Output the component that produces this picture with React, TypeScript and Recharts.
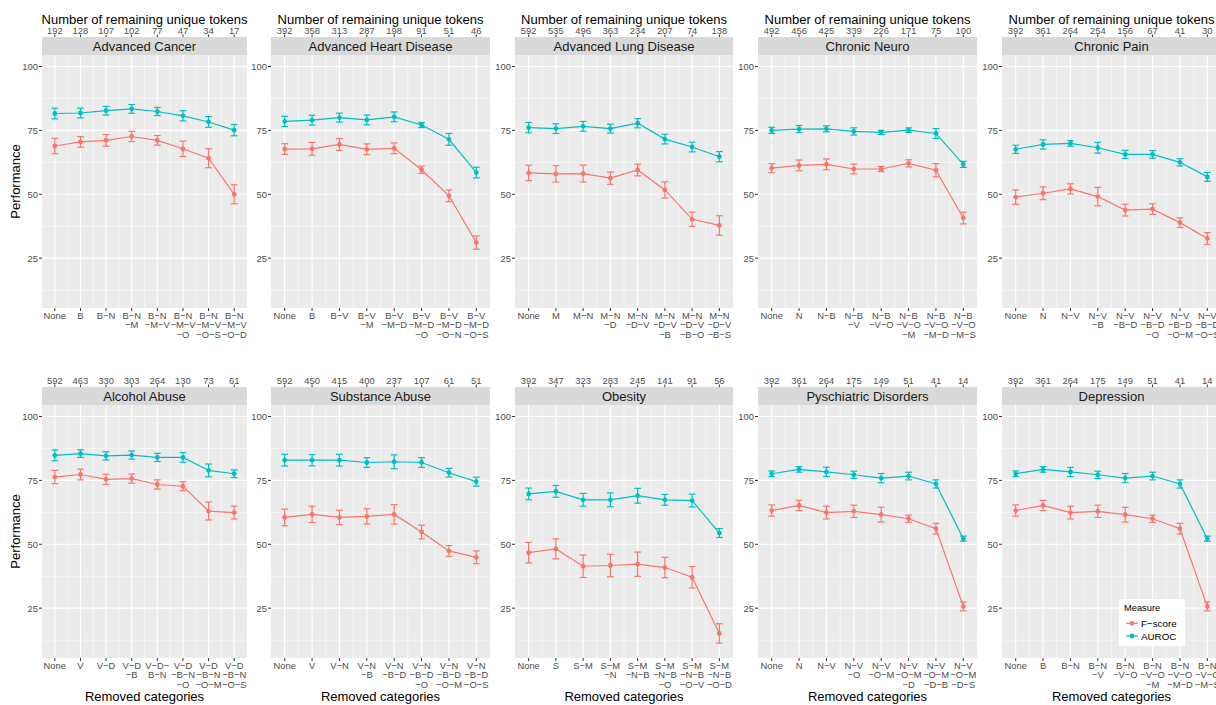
import React from 'react';
import { LineChart, Line, XAxis, YAxis, CartesianGrid, ErrorBar } from 'recharts';

// ---------- DATA ----------
const positions = [1, 2, 3, 4, 5, 6, 7, 8];
const yTicks = [25, 50, 75, 100];
const yMinor = [12.5, 37.5, 62.5, 87.5];
const xMinor = [1.5, 2.5, 3.5, 4.5, 5.5, 6.5, 7.5];

const cancerLabels = ['None', 'B', 'B−N', 'B−N\n−M', 'B−N\n−M−V', 'B−N\n−M−V\n−O', 'B−N\n−M−V\n−O−S', 'B−N\n−M−V\n−O−D'];
const cancerTokens = [192, 128, 107, 102, 77, 47, 34, 17];
const cancerAuroc = [81.6, 81.8, 82.7, 83.4, 82.4, 80.7, 78.3, 75.1];
const cancerAurocErr = [2.1, 1.9, 1.7, 1.7, 1.6, 2.0, 2.1, 2.2];
const cancerF = [68.9, 70.5, 71.1, 72.6, 71.1, 67.8, 64.1, 50.0];
const cancerFErr = [3.0, 2.1, 2.3, 2.0, 1.9, 3.0, 3.7, 3.7];

const heartLabels = ['None', 'B', 'B−V', 'B−V\n−M', 'B−V\n−M−D', 'B−V\n−M−D\n−O', 'B−V\n−M−D\n−O−N', 'B−V\n−M−D\n−O−S'];
const heartTokens = [392, 358, 313, 287, 198, 91, 51, 46];
const heartAuroc = [78.5, 79.0, 80.0, 79.1, 80.3, 77.1, 71.5, 58.5];
const heartAurocErr = [2.0, 1.9, 1.75, 1.9, 1.9, 1.0, 2.3, 2.1];
const heartF = [67.7, 67.8, 69.5, 67.6, 68.0, 59.6, 49.4, 31.1];
const heartFErr = [2.1, 2.5, 2.3, 2.1, 2.1, 1.4, 2.3, 2.6];

const lungLabels = ['None', 'M', 'M−N', 'M−N\n−D', 'M−N\n−D−V', 'M−N\n−D−V\n−B', 'M−N\n−D−V\n−B−O', 'M−N\n−D−V\n−B−S'];
const lungTokens = [592, 535, 496, 363, 234, 207, 74, 138];
const lungAuroc = [76.1, 75.7, 76.6, 75.7, 77.8, 71.6, 68.5, 64.7];
const lungAurocErr = [2.0, 1.9, 1.9, 1.75, 1.8, 1.9, 1.9, 2.0];
const lungF = [58.35, 58.0, 58.1, 56.3, 59.5, 51.7, 40.2, 37.8];
const lungFErr = [3.0, 3.2, 3.3, 2.4, 2.3, 3.2, 2.8, 3.8];

const neuroLabels = ['None', 'N', 'N−B', 'N−B\n−V', 'N−B\n−V−O', 'N−B\n−V−O\n−M', 'N−B\n−V−O\n−M−D', 'N−B\n−V−O\n−M−S'];
const neuroTokens = [492, 456, 425, 339, 226, 171, 75, 100];
const neuroAuroc = [75.0, 75.5, 75.6, 74.6, 74.2, 75.1, 73.8, 61.7];
const neuroAurocErr = [1.2, 1.4, 1.2, 1.4, 0.85, 0.9, 1.9, 1.2];
const neuroF = [60.2, 61.3, 61.7, 59.9, 59.9, 62.1, 59.4, 40.7];
const neuroFErr = [1.75, 2.1, 2.1, 1.9, 1.0, 1.4, 2.6, 2.3];

const painLabels = ['None', 'N', 'N−V', 'N−V\n−B', 'N−V\n−B−D', 'N−V\n−B−D\n−O', 'N−V\n−B−D\n−O−M', 'N−V\n−B−D\n−O−S'];
const painTokens = [392, 361, 264, 254, 156, 67, 41, 30];
const painAuroc = [67.6, 69.5, 69.9, 68.2, 65.6, 65.6, 62.5, 56.8];
const painAurocErr = [1.6, 1.8, 1.1, 2.1, 1.6, 1.5, 1.4, 1.75];
const painF = [48.9, 50.4, 52.1, 49.1, 43.8, 44.2, 38.9, 32.7];
const painFErr = [2.8, 2.5, 2.0, 3.6, 2.3, 2.1, 1.9, 2.3];

const alcoholLabels = ['None', 'V', 'V−D', 'V−D\n−B', 'V−D−\nB−N', 'V−D\n−B−N\n−O', 'V−D\n−B−N\n−O−M', 'V−D\n−B−N\n−O−S'];
const alcoholTokens = [592, 463, 330, 303, 264, 130, 73, 61];
const alcoholAuroc = [84.8, 85.5, 84.6, 84.9, 84.0, 84.0, 78.9, 77.6];
const alcoholAurocErr = [2.1, 1.5, 1.6, 1.6, 1.6, 1.9, 2.5, 1.5];
const alcoholF = [76.3, 77.3, 75.4, 75.7, 73.4, 72.7, 63.0, 62.4];
const alcoholFErr = [2.6, 2.1, 2.0, 1.8, 1.8, 1.75, 3.5, 2.5];

const substanceLabels = ['None', 'V', 'V−N', 'V−N\n−B', 'V−N\n−B−D', 'V−N\n−B−D\n−O', 'V−N\n−B−D\n−O−M', 'V−N\n−B−D\n−O−S'];
const substanceTokens = [592, 450, 415, 400, 237, 107, 61, 51];
const substanceAuroc = [82.9, 82.9, 82.9, 82.0, 82.3, 82.0, 78.0, 74.5];
const substanceAurocErr = [2.3, 2.2, 2.3, 1.9, 2.7, 1.9, 1.7, 1.75];
const substanceF = [60.5, 61.7, 60.5, 60.9, 61.7, 54.8, 47.4, 44.9];
const substanceFErr = [3.25, 3.2, 2.8, 3.0, 3.8, 2.7, 2.1, 2.5];

const obesityLabels = ['None', 'S', 'S−M', 'S−M\n−N', 'S−M\n−N−B', 'S−M\n−N−B\n−O', 'S−M\n−N−B\n−O−V', 'S−M\n−N−B\n−O−D'];
const obesityTokens = [392, 347, 323, 283, 245, 141, 91, 56];
const obesityAuroc = [69.7, 70.7, 67.4, 67.4, 69.0, 67.4, 67.1, 54.4];
const obesityAurocErr = [2.3, 2.3, 2.5, 2.7, 2.9, 2.1, 2.5, 1.75];
const obesityF = [46.7, 48.2, 41.4, 41.7, 42.2, 40.9, 37.1, 15.1];
const obesityFErr = [4.0, 3.9, 4.4, 4.4, 4.75, 4.0, 4.2, 3.8];

const psychLabels = ['None', 'N', 'N−V', 'N−V\n−O', 'N−V\n−O−M', 'N−V\n−O−M\n−D', 'N−V\n−O−M\n−D−B', 'N−V\n−O−M\n−D−S'];
const psychTokens = [392, 361, 264, 175, 149, 51, 41, 14];
const psychAuroc = [77.6, 79.3, 78.3, 77.2, 75.9, 76.7, 73.6, 52.2];
const psychAurocErr = [1.1, 1.1, 1.8, 1.4, 1.8, 1.5, 1.6, 1.0];
const psychF = [63.2, 65.2, 62.4, 62.9, 61.6, 60.0, 56.1, 25.7];
const psychFErr = [2.2, 2.0, 2.5, 2.4, 2.9, 1.4, 2.1, 1.75];

const depressionLabels = ['None', 'B', 'B−N', 'B−N\n−V', 'B−N\n−V−O', 'B−N\n−V−O\n−M', 'B−N\n−V−O\n−M−D', 'B−N\n−V−O\n−M−S'];
const depressionTokens = [392, 361, 264, 175, 149, 51, 41, 14];
const depressionAuroc = [77.6, 79.3, 78.3, 77.2, 75.9, 76.7, 73.6, 52.2];
const depressionAurocErr = [1.1, 1.1, 1.8, 1.4, 1.8, 1.5, 1.6, 1.0];
const depressionF = [63.2, 65.2, 62.4, 62.9, 61.6, 60.0, 56.1, 25.7];
const depressionFErr = [2.2, 2.0, 2.5, 2.4, 2.9, 1.4, 2.1, 1.75];

const panelTitles = [
  'Advanced Cancer', 'Advanced Heart Disease', 'Advanced Lung Disease', 'Chronic Neuro', 'Chronic Pain',
  'Alcohol Abuse', 'Substance Abuse', 'Obesity', 'Pyschiatric Disorders', 'Depression',
];

const panelSources = [
  [cancerLabels, cancerTokens, cancerAuroc, cancerAurocErr, cancerF, cancerFErr],
  [heartLabels, heartTokens, heartAuroc, heartAurocErr, heartF, heartFErr],
  [lungLabels, lungTokens, lungAuroc, lungAurocErr, lungF, lungFErr],
  [neuroLabels, neuroTokens, neuroAuroc, neuroAurocErr, neuroF, neuroFErr],
  [painLabels, painTokens, painAuroc, painAurocErr, painF, painFErr],
  [alcoholLabels, alcoholTokens, alcoholAuroc, alcoholAurocErr, alcoholF, alcoholFErr],
  [substanceLabels, substanceTokens, substanceAuroc, substanceAurocErr, substanceF, substanceFErr],
  [obesityLabels, obesityTokens, obesityAuroc, obesityAurocErr, obesityF, obesityFErr],
  [psychLabels, psychTokens, psychAuroc, psychAurocErr, psychF, psychFErr],
  [depressionLabels, depressionTokens, depressionAuroc, depressionAurocErr, depressionF, depressionFErr],
] as any[];

// ---------- STYLE / LAYOUT ----------
const FONT = '"Liberation Sans", Arial, Helvetica, sans-serif';
const F_COLOR = '#F8766D';
const A_COLOR = '#00BFC4';
const PANEL_BG = '#EBEBEB';
const STRIP_BG = '#D9D9D9';
const TICK_TEXT = '#4D4D4D';
const TICK_LINE = '#333333';
const TICK_FS = 9.4;

const COL_LEFT = [42, 271, 515, 758, 1002];
const COL_W = [205, 219, 218, 219, 219];
const ROW_TOP = [55, 405];
const PLOT_H = 253;
const Y_AXIS_W = 30;
const TOP_SPACE = 40;
const BOTTOM_SPACE = 46;
const STRIP_H = 18;

function makeTick(labels: string[], tokens: number[], plotTop: number, plotBottom: number) {
  return (props: any) => {
    const { x, payload } = props;
    const i = Math.round(payload.value) - 1;
    if (i < 0 || i >= labels.length) return <g />;
    const lines = labels[i].split('\n');
    return (
      <g>
        <line x1={x} x2={x} y1={plotBottom} y2={plotBottom + 3} stroke={TICK_LINE} strokeWidth={1} />
        {lines.map((ln, k) => (
          <text key={k} x={x} y={plotBottom + 11 + k * 9.4} textAnchor="middle" fontSize={TICK_FS} fill={TICK_TEXT} fontFamily={FONT}>
            {ln}
          </text>
        ))}
        <line x1={x} x2={x} y1={plotTop - STRIP_H - 2.5} y2={plotTop - STRIP_H} stroke={TICK_LINE} strokeWidth={1} />
        <text x={x} y={plotTop - STRIP_H - 2.8} textAnchor="middle" fontSize={TICK_FS} fill={TICK_TEXT} fontFamily={FONT}>
          {tokens[i]}
        </text>
      </g>
    );
  };
}

function Panel({ idx }: { idx: number }) {
  const [labels, tokens, auroc, aurocErr, f, fErr] = panelSources[idx];
  const row = Math.floor(idx / 5);
  const col = idx % 5;
  const plotLeft = COL_LEFT[col];
  const plotW = COL_W[col];
  const plotTop = ROW_TOP[row];
  const width = plotW + Y_AXIS_W + 2;
  const height = PLOT_H + TOP_SPACE + BOTTOM_SPACE;
  const data = positions.map((x, i) => ({
    x,
    auroc: auroc[i],
    aurocErr: aurocErr[i],
    f: f[i],
    fErr: fErr[i],
  }));
  const tick = makeTick(labels, tokens, TOP_SPACE, TOP_SPACE + PLOT_H);
  return (
    <div style={{ position: 'absolute', left: plotLeft - Y_AXIS_W, top: plotTop - TOP_SPACE, width, height }}>
      <LineChart width={width} height={height} data={data} margin={{ top: TOP_SPACE, right: 2, bottom: 0, left: 0 }}>
        <CartesianGrid
          horizontalValues={yMinor}
          verticalValues={xMinor}
          stroke="#FFFFFF"
          strokeWidth={0.55}
          fill={PANEL_BG}
          fillOpacity={1}
        />
        <CartesianGrid horizontalValues={yTicks} verticalValues={positions} stroke="#FFFFFF" strokeWidth={1.1} />
        <XAxis
          dataKey="x"
          type="number"
          domain={[0.5, 8.5]}
          ticks={positions}
          interval={0}
          axisLine={false}
          tickLine={false}
          height={BOTTOM_SPACE}
          tick={tick}
          allowDataOverflow
        />
        <YAxis
          type="number"
          domain={[5.5, 104.5]}
          ticks={yTicks}
          interval={0}
          width={Y_AXIS_W}
          axisLine={false}
          tickSize={3}
          tickMargin={1}
          tickLine={{ stroke: TICK_LINE, strokeWidth: 1 }}
          tick={{ fontSize: TICK_FS, fill: TICK_TEXT, fontFamily: FONT }}
          allowDataOverflow
        />
        <Line
          dataKey="f"
          stroke={F_COLOR}
          strokeWidth={1.2}
          dot={{ r: 2.4, fill: F_COLOR, stroke: 'none' }}
          activeDot={false}
          isAnimationActive={false}
        >
          <ErrorBar dataKey="fErr" width={3.4} stroke={F_COLOR} strokeWidth={1.2} direction="y" isAnimationActive={false} />
        </Line>
        <Line
          dataKey="auroc"
          stroke={A_COLOR}
          strokeWidth={1.2}
          dot={{ r: 2.4, fill: A_COLOR, stroke: 'none' }}
          activeDot={false}
          isAnimationActive={false}
        >
          <ErrorBar dataKey="aurocErr" width={3.4} stroke={A_COLOR} strokeWidth={1.2} direction="y" isAnimationActive={false} />
        </Line>
      </LineChart>
    </div>
  );
}

function Overlay() {
  const items: React.ReactNode[] = [];
  panelTitles.forEach((t, idx) => {
    const row = Math.floor(idx / 5);
    const col = idx % 5;
    const x = COL_LEFT[col];
    const w = COL_W[col];
    const top = ROW_TOP[row];
    items.push(
      <g key={'s' + idx}>
        <rect x={x} y={top - STRIP_H} width={w} height={STRIP_H} fill={STRIP_BG} />
        <text x={x + w / 2} y={top - STRIP_H / 2 + 4.5} textAnchor="middle" fontSize={13} fill="#1A1A1A" fontFamily={FONT}>
          {t}
        </text>
      </g>
    );
    if (row === 0) {
      items.push(
        <text key={'t' + idx} x={x + w / 2} y={23.8} textAnchor="middle" fontSize={13} fill="#000" fontFamily={FONT}>
          Number of remaining unique tokens
        </text>
      );
    } else {
      items.push(
        <text key={'r' + idx} x={x + w / 2} y={701} textAnchor="middle" fontSize={13} fill="#000" fontFamily={FONT}>
          Removed categories
        </text>
      );
    }
  });
  [0, 1].forEach((row) => {
    const cy = ROW_TOP[row] + PLOT_H / 2;
    items.push(
      <text key={'p' + row} x={0} y={0} transform={`translate(19.5, ${cy}) rotate(-90)`} textAnchor="middle" fontSize={13} fill="#000" fontFamily={FONT}>
        Performance
      </text>
    );
  });
  // legend
  items.push(
    <g key="legend">
      <rect x={1119} y={599} width={66} height={47} fill="#FFFFFF" />
      <text x={1124} y={611} fontSize={9.3} fill="#000" fontFamily={FONT}>Measure</text>
      <line x1={1126} x2={1138} y1={623.3} y2={623.3} stroke={F_COLOR} strokeWidth={1.2} />
      <circle cx={1132} cy={623.3} r={2.4} fill={F_COLOR} />
      <text x={1141} y={626.8} fontSize={9.8} fill="#000" fontFamily={FONT}>F−score</text>
      <line x1={1126} x2={1138} y1={636} y2={636} stroke={A_COLOR} strokeWidth={1.2} />
      <circle cx={1132} cy={636} r={2.4} fill={A_COLOR} />
      <text x={1141} y={639.5} fontSize={9.8} fill="#000" fontFamily={FONT}>AUROC</text>
    </g>
  );
  return (
    <svg width={1216} height={705} style={{ position: 'absolute', left: 0, top: 0, pointerEvents: 'none' }}>
      {items}
    </svg>
  );
}

export default function App() {
  return (
    <div
      style={{
        position: 'absolute',
        left: 0,
        top: 0,
        width: 1216,
        height: 705,
        overflow: 'hidden',
        background: '#FFFFFF',
        fontFamily: FONT,
      }}
    >
      {panelTitles.map((_, idx) => (
        <Panel key={idx} idx={idx} />
      ))}
      <Overlay />
    </div>
  );
}
